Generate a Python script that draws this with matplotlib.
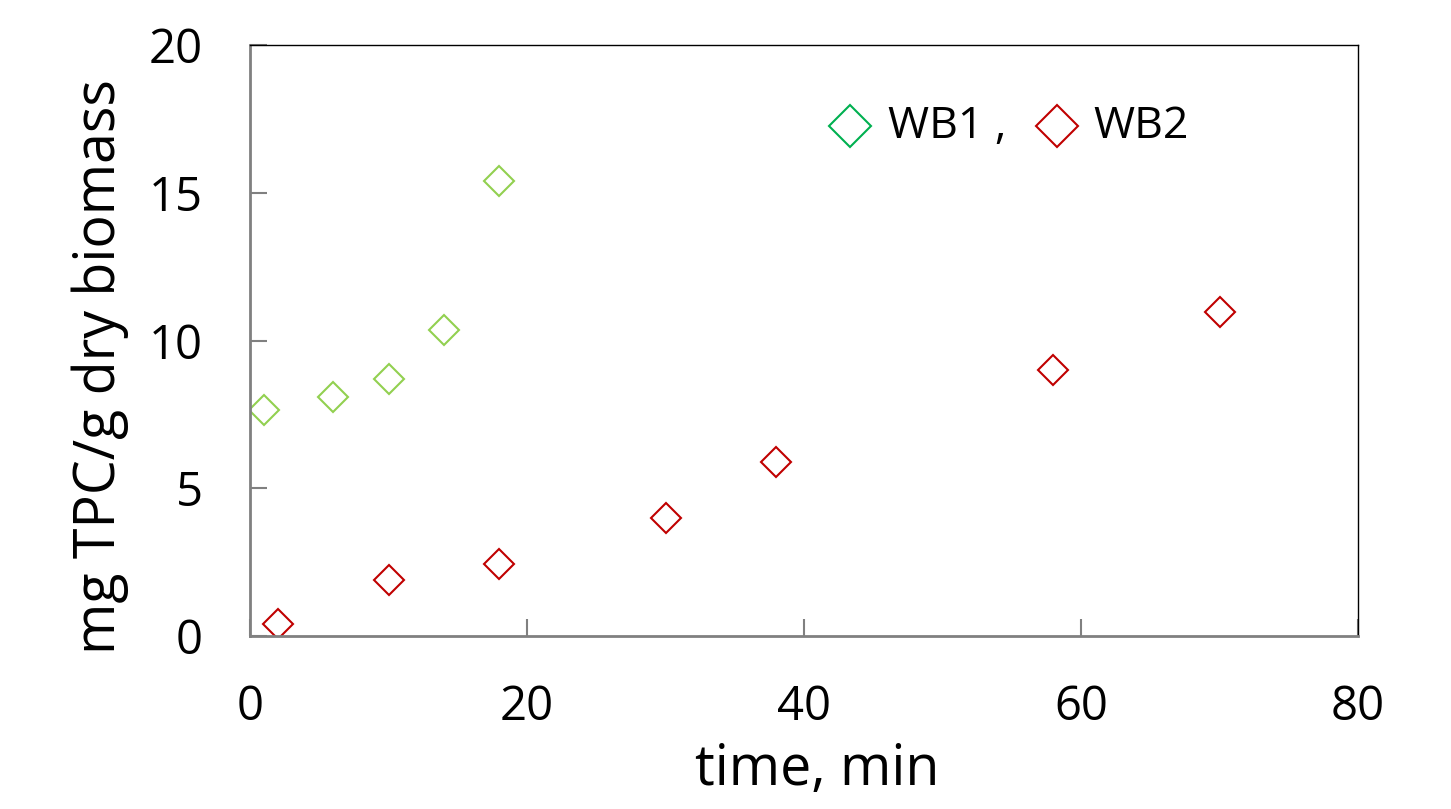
import matplotlib
matplotlib.use("Agg")
import matplotlib.pyplot as plt

plt.rcParams['font.family'] = ['Open Sans', 'DejaVu Sans']

# data
wb1_time = [1, 6, 10, 14, 18]
wb1_tpc = [7.65, 8.1, 8.7, 10.35, 15.4]
wb2_time = [2, 10, 18, 30, 38, 58, 70]
wb2_tpc = [0.4, 1.9, 2.45, 4.0, 5.9, 9.0, 10.95]

W, H = 1451, 809
fig = plt.figure(figsize=(W / 100, H / 100), dpi=100)
ax = fig.add_axes([250 / W, 1 - 636 / H, (1358 - 250) / W, (636 - 45) / H])

ax.plot(wb1_time, wb1_tpc, linestyle='none', marker='D', markersize=15,
        markerfacecolor='white', markeredgecolor='#92D050', markeredgewidth=1.5)
ax.plot(wb2_time, wb2_tpc, linestyle='none', marker='D', markersize=15,
        markerfacecolor='white', markeredgecolor='#C00000', markeredgewidth=1.5)

ax.set_xlim(0, 80)
ax.set_ylim(0, 20)
ax.set_xticks([0, 20, 40, 60, 80])
ax.set_yticks([0, 5, 10, 15, 20])

for side in ['left', 'bottom']:
    ax.spines[side].set_color('#808080')
    ax.spines[side].set_linewidth(2)
for side in ['top', 'right']:
    ax.spines[side].set_color('black')
    ax.spines[side].set_linewidth(1)

ax.tick_params(direction='in', length=12, width=1.5, color='#808080',
               labelsize=34)
ax.tick_params(axis='x', pad=34)
ax.tick_params(axis='y', pad=34)

# axis titles placed where they sit in the original
fig.text(817 / W, 1 - 785 / H, 'time, min', fontsize=40, ha='center', va='baseline')
fig.text(100 / W, 1 - 367 / H, 'mg TPC/g dry biomass', fontsize=40,
         rotation=90, ha='center', va='center')

# legend drawn as markers + text, like the original
ax.plot([43.3], [17.25], linestyle='none', marker='D', markersize=21,
        markerfacecolor='white', markeredgecolor='#00B050', markeredgewidth=1.5)
ax.text(46.1, 17.25, 'WB1 ,', fontsize=32, va='center', ha='left')
ax.plot([58.3], [17.25], linestyle='none', marker='D', markersize=21,
        markerfacecolor='white', markeredgecolor='#C00000', markeredgewidth=1.5)
ax.text(60.9, 17.25, 'WB2', fontsize=32, va='center', ha='left')

fig.savefig('out.png', dpi=100)
